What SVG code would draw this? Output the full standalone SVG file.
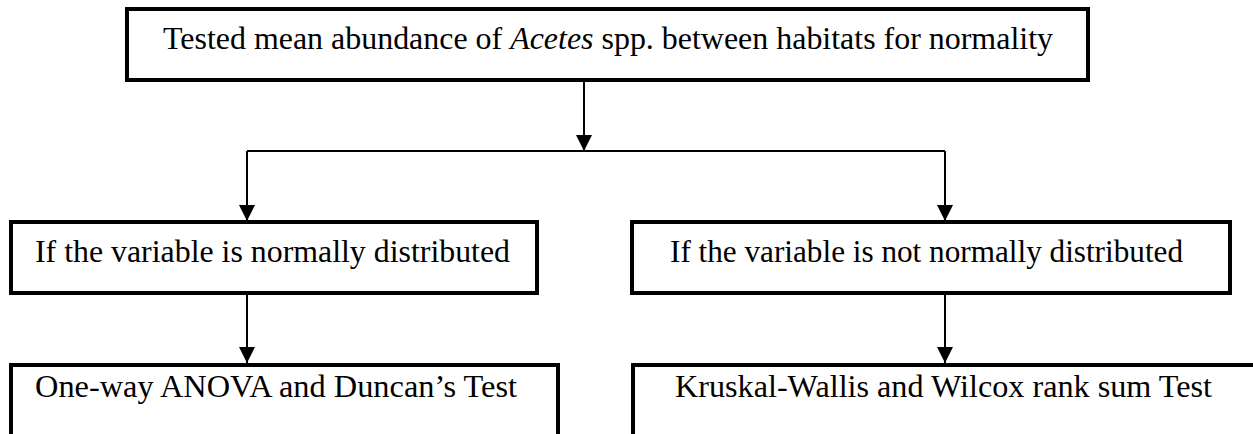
<svg xmlns="http://www.w3.org/2000/svg" width="1253" height="434" viewBox="0 0 1253 434">
<style>
.box{fill:#fff;stroke:#000;stroke-width:4}
.t{font-family:"Liberation Serif","Times New Roman",serif;font-size:32px;fill:#000}
.c{fill:none;stroke:#000;stroke-width:2}
.ah{fill:#000}
</style>
<rect width="1253" height="434" fill="#fff"/>
<g id="connectors">
<line class="c" x1="584" y1="80" x2="584" y2="151"/>
<path class="ah" d="M576,135 L592,135 L584,151 Z"/>
<line class="c" x1="247" y1="151" x2="945" y2="151"/>
<line class="c" x1="247" y1="151" x2="247" y2="221"/>
<path class="ah" d="M239,205 L255,205 L247,221 Z"/>
<line class="c" x1="945" y1="151" x2="945" y2="221"/>
<path class="ah" d="M937,205 L953,205 L945,221 Z"/>
<line class="c" x1="247" y1="293" x2="247" y2="363"/>
<path class="ah" d="M239,347 L255,347 L247,363 Z"/>
<line class="c" x1="945" y1="293" x2="945" y2="363"/>
<path class="ah" d="M937,347 L953,347 L945,363 Z"/>
</g>
<g id="top">
<rect class="box" x="127" y="9" width="961" height="71"/>
<text class="t" x="163" y="49" font-size="31" textLength="890" lengthAdjust="spacingAndGlyphs">Tested mean abundance of <tspan font-style="italic">Acetes</tspan> spp. between habitats for normality</text>
</g>
<g id="normal">
<rect class="box" x="11" y="222" width="526" height="71"/>
<text class="t" x="35" y="262" textLength="475" lengthAdjust="spacingAndGlyphs">If the variable is normally distributed</text>
</g>
<g id="notnormal">
<rect class="box" x="632" y="222" width="598" height="71"/>
<text class="t" x="670" y="262" textLength="513" lengthAdjust="spacingAndGlyphs">If the variable is not normally distributed</text>
</g>
<g id="anova">
<rect class="box" x="11" y="365" width="547" height="80"/>
<text class="t" x="35" y="397" textLength="482" lengthAdjust="spacingAndGlyphs">One-way ANOVA and Duncan’s Test</text>
</g>
<g id="kruskal">
<rect class="box" x="633" y="365" width="640" height="80"/>
<text class="t" x="675" y="397" textLength="537" lengthAdjust="spacingAndGlyphs">Kruskal-Wallis and Wilcox rank sum Test</text>
</g>
</svg>
